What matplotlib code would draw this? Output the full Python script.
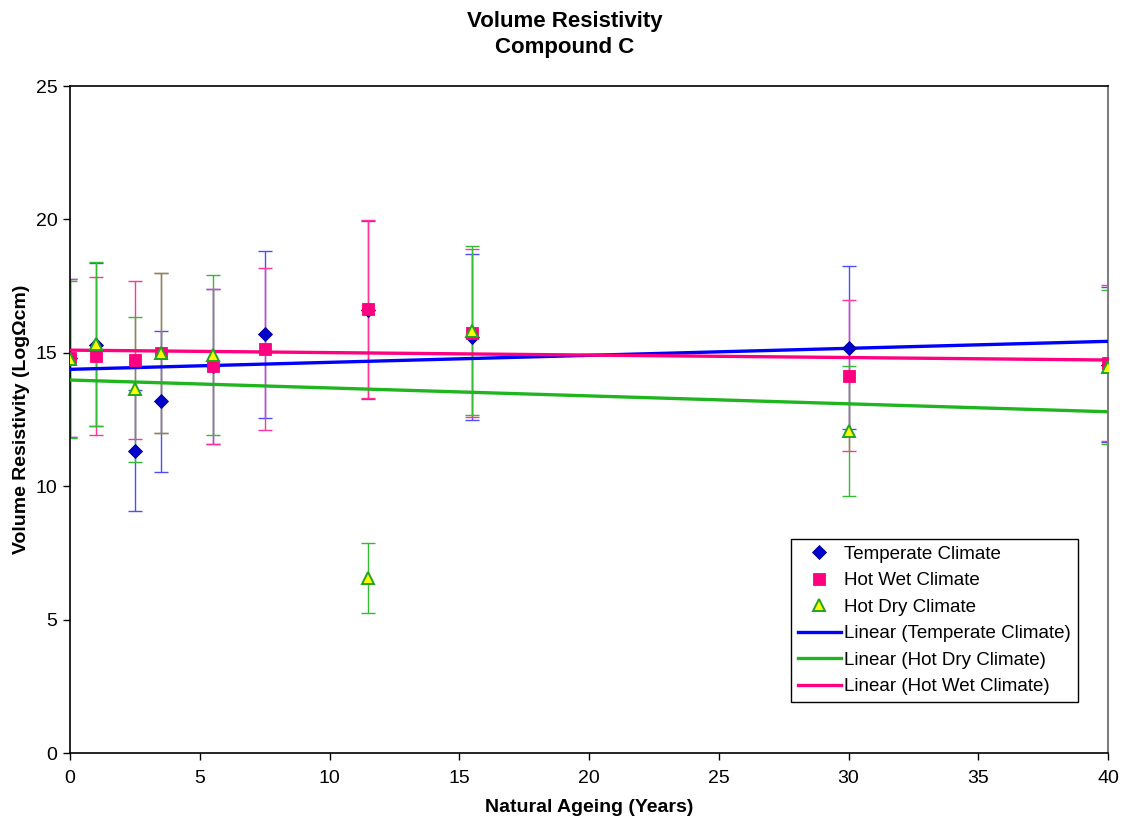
import matplotlib
matplotlib.use("Agg")
import matplotlib.pyplot as plt
import numpy as np

plt.rcParams['font.family'] = ['Liberation Sans', 'DejaVu Sans']

# Temperate Climate
temp_x = [0, 1, 2.5, 3.5, 5.5, 7.5, 11.5, 15.5, 30, 40]
temp_y = [14.8, 15.3, 11.33, 13.18, 14.5, 15.69, 16.6, 15.6, 15.19, 14.55]
temp_err = [2.96, 3.06, 2.27, 2.64, 2.9, 3.14, 3.33, 3.12, 3.05, 2.91]

# Hot Wet Climate
wet_x = [0, 1, 2.5, 3.5, 5.5, 7.5, 11.5, 15.5, 30, 40]
wet_y = [14.79, 14.88, 14.73, 14.98, 14.5, 15.13, 16.64, 15.75, 14.14, 14.61]
wet_err = [2.96, 2.97, 2.96, 3.0, 2.9, 3.03, 3.33, 3.15, 2.83, 2.92]

# Hot Dry Climate
dry_x = [0, 1, 2.5, 3.5, 5.5, 11.5, 15.5, 30, 40]
dry_y = [14.75, 15.32, 13.63, 14.98, 14.92, 6.55, 15.83, 12.07, 14.46]
dry_err = [2.95, 3.08, 2.73, 3.0, 3.0, 1.31, 3.17, 2.42, 2.88]

# Linear trend lines (endpoints)
trend_x = [0, 40]
trend_temp = [14.38, 15.43]
trend_dry = [13.98, 12.79]
trend_wet = [15.10, 14.73]

x_ticks = [0, 5, 10, 15, 20, 25, 30, 35, 40]
y_ticks = [0, 5, 10, 15, 20, 25]

W, H = 1130, 822
fig = plt.figure(figsize=(W / 100, H / 100), dpi=100)
ax = fig.add_axes([70 / W, (H - 753) / H, (1108 - 70) / W, (753 - 86) / H])

cap = 4.7
ax.errorbar(temp_x, temp_y, yerr=temp_err, fmt='none', ecolor='#4d4dff',
            elinewidth=1.0, capsize=cap, capthick=1.0, zorder=2)
ax.errorbar(wet_x, wet_y, yerr=wet_err, fmt='none', ecolor='#ff3399',
            elinewidth=1.0, capsize=cap, capthick=1.0, zorder=2.1)
ax.errorbar(dry_x, dry_y, yerr=dry_err, fmt='none', ecolor='#33bb33',
            elinewidth=1.0, capsize=cap, capthick=1.0, zorder=2.2)

ax.plot(trend_x, trend_temp, color='#0000ff', lw=2.4, zorder=3)
ax.plot(trend_x, trend_dry, color='#1fb51f', lw=2.4, zorder=3)
ax.plot(trend_x, trend_wet, color='#ff0080', lw=2.4, zorder=3)

h1, = ax.plot(temp_x, temp_y, linestyle='none', marker='D', ms=7.2,
              mfc='#0000cc', mec='#000099', mew=0.6, zorder=4)
h2, = ax.plot(wet_x, wet_y, linestyle='none', marker='s', ms=8.2,
              mfc='#ff0080', mec='#ff0080', mew=0.6, zorder=4.1)
h3, = ax.plot(dry_x, dry_y, linestyle='none', marker='^', ms=9,
              mfc='#ffff00', mec='#1fa51f', mew=1.4, zorder=4.2)

l1, = ax.plot([], [], color='#0000ff', lw=2.4)
l2, = ax.plot([], [], color='#1fb51f', lw=2.4)
l3, = ax.plot([], [], color='#ff0080', lw=2.4)

ax.set_xlim(0, 40)
ax.set_ylim(0, 25)
ax.set_xticks(x_ticks)
ax.set_yticks(y_ticks)
ax.tick_params(axis='both', direction='out', length=5, width=1, labelsize=14,
               colors='black', pad=4)
ax.tick_params(axis='x', pad=7)

for s in ['left', 'bottom', 'top']:
    ax.spines[s].set_color('black')
    ax.spines[s].set_linewidth(1.2)
ax.spines['right'].set_color('#808080')
ax.spines['right'].set_linewidth(1.5)

ax.set_xlabel('Natural Ageing (Years)', fontsize=14, fontweight='bold', labelpad=9)
ax.set_ylabel('Volume Resistivity (Log\u03a9cm)', fontsize=14, fontweight='bold', labelpad=4)

fig.text(0.5, 1 - 21 / H, 'Volume Resistivity', ha='center', va='center',
         fontsize=16, fontweight='bold')
fig.text(0.5, 1 - 47 / H, 'Compound C', ha='center', va='center',
         fontsize=16, fontweight='bold')

leg = ax.legend([h1, h2, h3, l1, l2, l3],
                ['Temperate Climate', 'Hot Wet Climate', 'Hot Dry Climate',
                 'Linear (Temperate Climate)', 'Linear (Hot Dry Climate)',
                 'Linear (Hot Wet Climate)'],
                loc='upper left', bbox_to_anchor=((791 - 70) / 1038, (753 - 539) / 667),
                fontsize=13.5, frameon=True, fancybox=False, edgecolor='black',
                framealpha=1, handlelength=2.3, handletextpad=0.2,
                labelspacing=0.5, borderpad=0.35, borderaxespad=0)
leg.get_frame().set_linewidth(1.0)

fig.savefig('out.png', dpi=100)
